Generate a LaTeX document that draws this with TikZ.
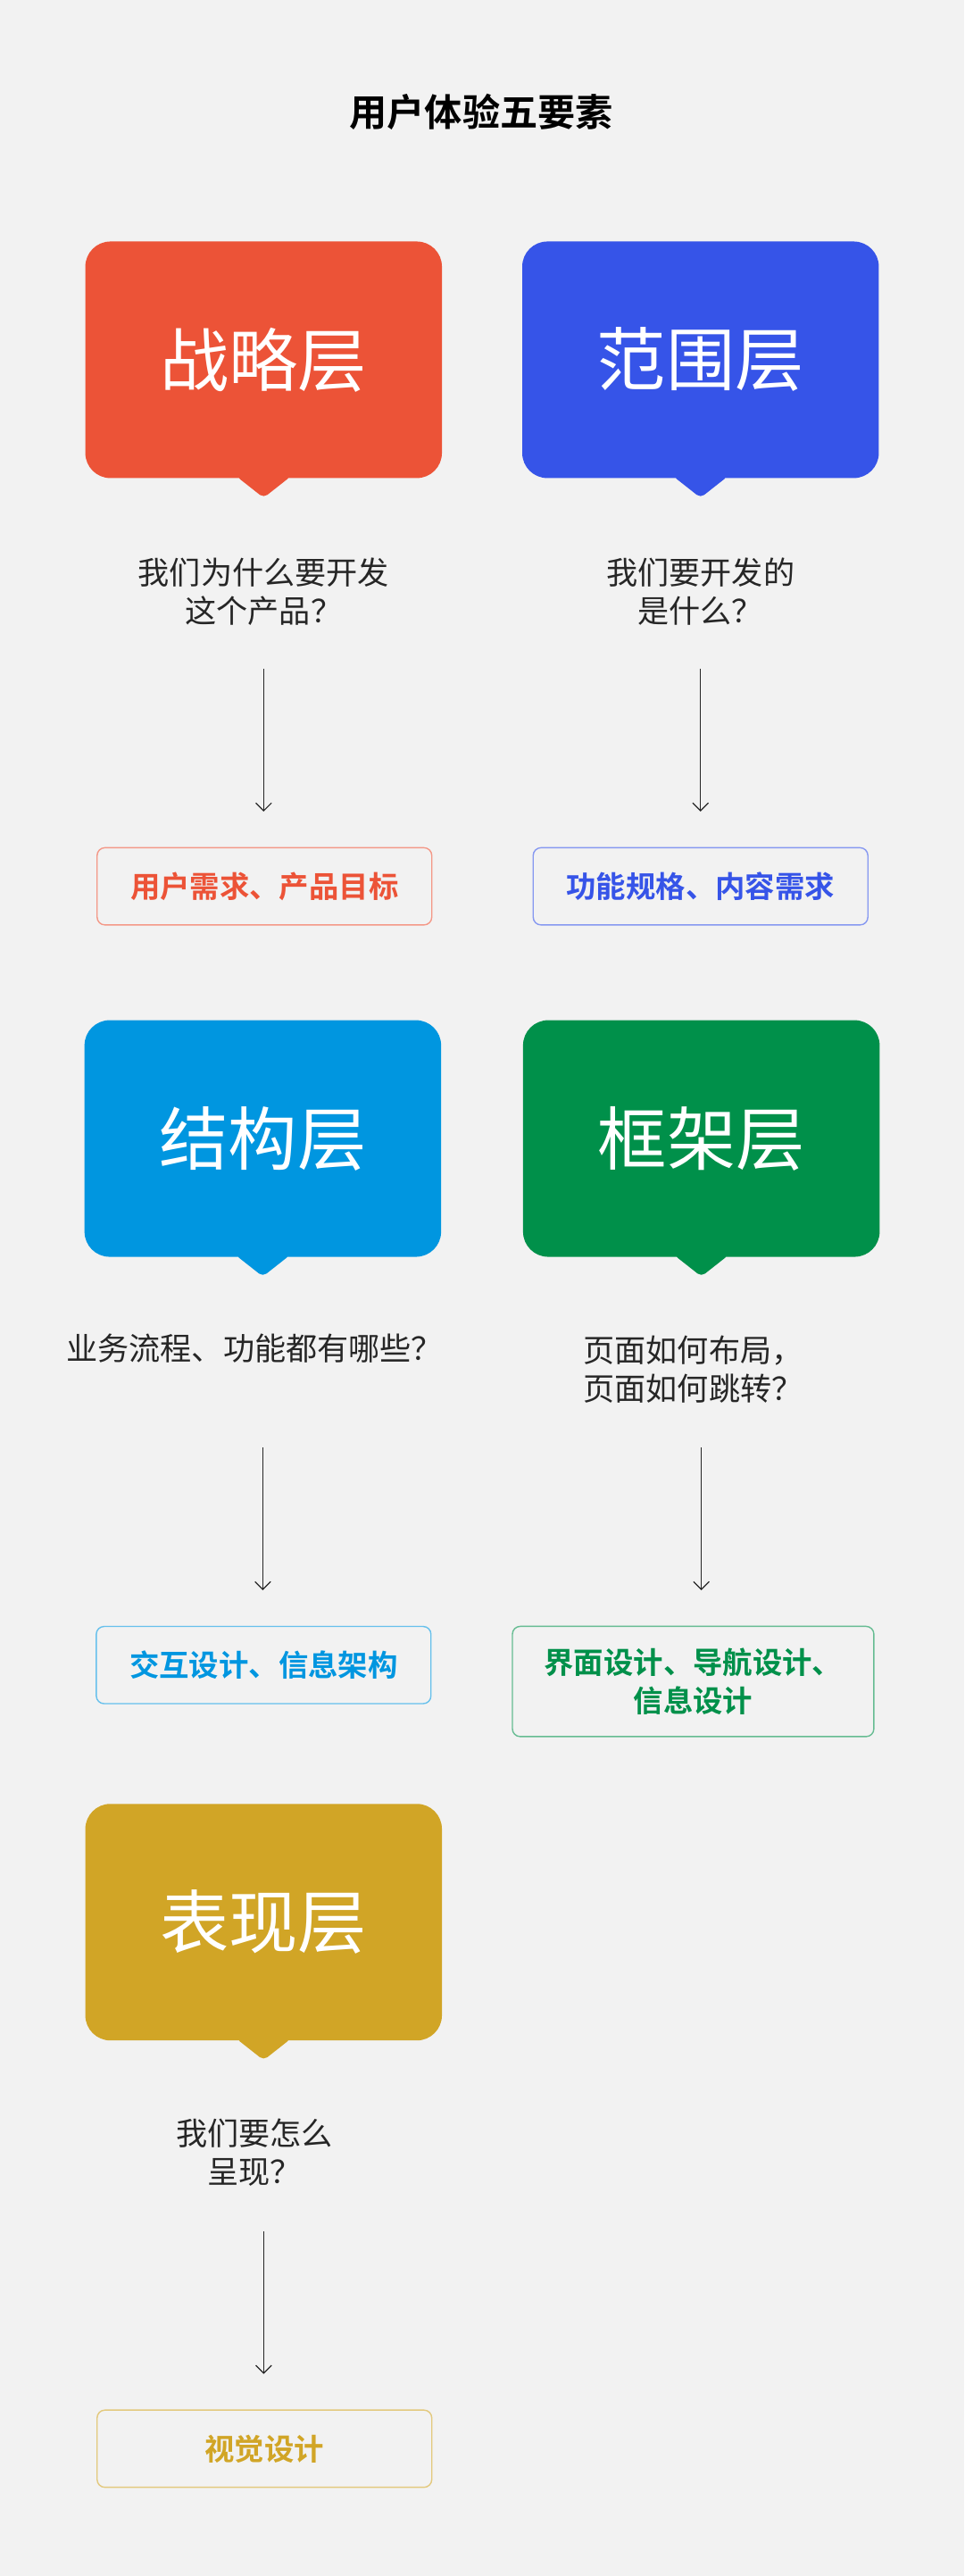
\documentclass[tikz,border=0pt]{standalone}
\usepackage{fontspec}
\setmainfont{Noto Sans CJK SC}[BoldFont={Noto Sans CJK SC Bold}]
\usetikzlibrary{positioning,arrows.meta}

\definecolor{cred}{HTML}{EC5337}
\definecolor{cblue}{HTML}{3654E8}
\definecolor{ccyan}{HTML}{0096E0}
\definecolor{cgreen}{HTML}{00904A}
\definecolor{cgold}{HTML}{D1A526}
\definecolor{cbg}{HTML}{F2F2F2}

\tikzset{
  layerbox/.style={rounded corners=16pt,minimum width=7.99cm,minimum height=5.3cm,
    text=white,font=\fontsize{44}{50}\selectfont,inner sep=0pt},
  question/.style={align=center,font=\fontsize{20}{24.5}\selectfont,text=black!85},
  goal/.style={draw=#1!60,text=#1,rounded corners=5pt,line width=0.8pt,minimum width=7.5cm,
    minimum height=1.73cm,align=center,font=\bfseries\fontsize{19}{24}\selectfont},
  flow/.style={-{Straight Barb[length=5pt,width=10pt]},black!85,line width=0.7pt}
}

\begin{document}
\begin{tikzpicture}[x=0.0368cm,y=-0.0368cm]
\fill[cbg] (0,0) rectangle (587,1568);
\useasboundingbox (0,0) rectangle (587,1568);

\node (title) at (293,68) {\bfseries\fontsize{24}{28}\selectfont 用户体验五要素};

% strategy
\node[layerbox,fill=cred] (strategy) at (160.5,219) {战略层};
\fill[cred,rounded corners=3pt] (144,290) -- (160.5,303) -- (177,290) -- cycle;
\node[question] (whyq) at (160.5,360) {我们为什么要开发\\这个产品？};
\node[goal=cred] (whyg) at (161,539.5) {用户需求、产品目标};
\coordinate (why1) at (160.5,407);
\coordinate (why2) at (160.5,494);
\draw[flow] (why1) -- (why2);

% scope
\node[layerbox,fill=cblue] (scope) at (426.5,219) {范围层};
\fill[cblue,rounded corners=3pt] (410,290) -- (426.5,303) -- (443,290) -- cycle;
\node[question] (whatq) at (426.5,360) {我们要开发的\\是什么？};
\node[goal=cblue] (whatg) at (426.5,539.5) {功能规格、内容需求};
\coordinate (what1) at (426.5,407);
\coordinate (what2) at (426.5,494);
\draw[flow] (what1) -- (what2);

% structure
\node[layerbox,fill=ccyan] (structure) at (160,693) {结构层};
\fill[ccyan,rounded corners=3pt] (143.5,764) -- (160,777) -- (176.5,764) -- cycle;
\node[question] (flowq) at (155,821) {业务流程、功能都有哪些？};
\node[goal=ccyan] (flowg) at (160.5,1013.5) {交互设计、信息架构};
\coordinate (flow1) at (160,881);
\coordinate (flow2) at (160,968);
\draw[flow] (flow1) -- (flow2);

% skeleton
\node[layerbox,fill=cgreen] (skeleton) at (427,693) {框架层};
\fill[cgreen,rounded corners=3pt] (410.5,764) -- (427,777) -- (443.5,764) -- cycle;
\node[question] (layoutq) at (422,833.5) {页面如何布局，\\页面如何跳转？};
\node[goal=cgreen,minimum width=8.1cm,minimum height=2.47cm,text width=7.6cm] (layoutg) at (422,1023.5) {界面设计、导航设计、\\信息设计};
\coordinate (layout1) at (427,881);
\coordinate (layout2) at (427,968);
\draw[flow] (layout1) -- (layout2);

% surface
\node[layerbox,fill=cgold] (surface) at (160.5,1170) {表现层};
\fill[cgold,rounded corners=3pt] (144,1241) -- (160.5,1254) -- (177,1241) -- cycle;
\node[question] (showq) at (155,1310) {我们要怎么\\呈现？};
\node[goal=cgold] (showg) at (161,1490.5) {视觉设计};
\coordinate (show1) at (160.5,1358);
\coordinate (show2) at (160.5,1445);
\draw[flow] (show1) -- (show2);
\end{tikzpicture}
\end{document}
